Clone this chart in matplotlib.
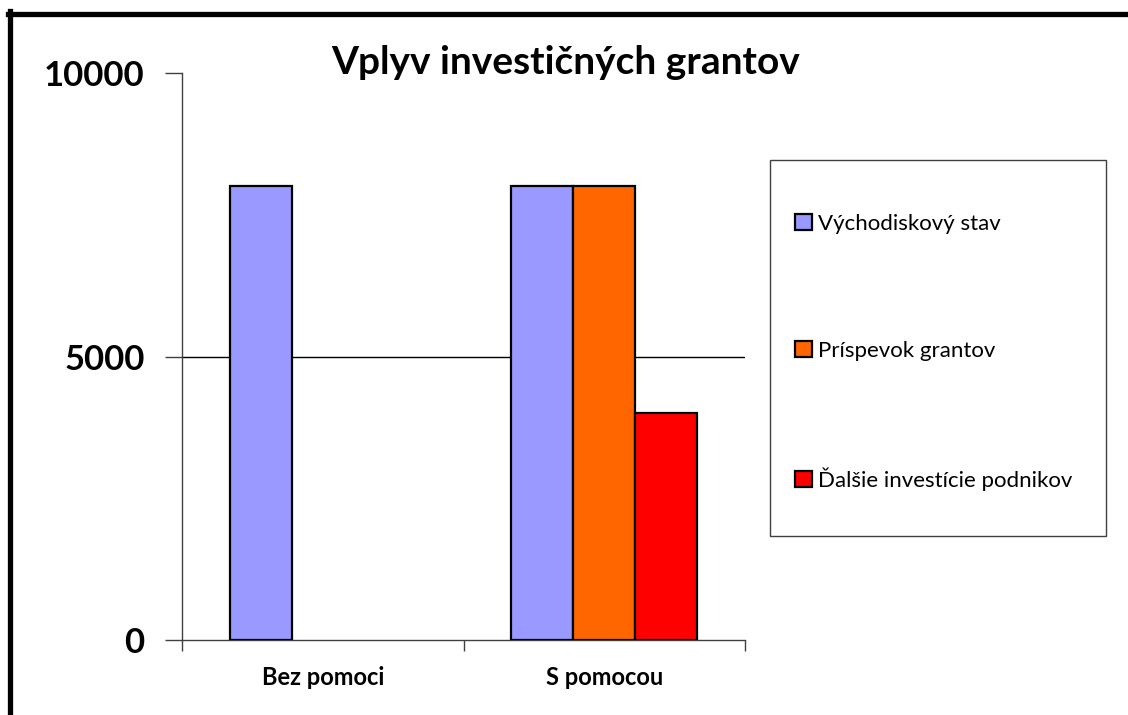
import matplotlib
matplotlib.use("Agg")
import matplotlib.pyplot as plt
from matplotlib.patches import Rectangle, Patch
from matplotlib.lines import Line2D
import numpy as np

plt.rcParams['font.family'] = ['Lato', 'DejaVu Sans']

categories = ["Bez pomoci", "S pomocou"]
series_names = ["Východiskový stav", "Príspevok grantov", "Ďalšie investície podnikov"]
vychodiskovy = [8000, 8000]
prispevok = [0, 8000]
dalsie = [0, 4000]
colors = ["#9999FF", "#FF6600", "#FF0000"]
yticks = [0, 5000, 10000]
title = "Vplyv investičných grantov"

W, H = 1128, 715
fig = plt.figure(figsize=(W / 100, H / 100), dpi=100)

def fx(px):
    return px / W

def fy(py):
    return 1 - py / H

ax = fig.add_axes([fx(182), fy(640), fx(745) - fx(182), fy(73) - fy(640)])

x = np.arange(len(categories))
width = 0.22
for i, (vals, c, name) in enumerate(zip([vychodiskovy, prispevok, dalsie], colors, series_names)):
    v = np.array(vals, dtype=float)
    v[v == 0] = np.nan
    ax.bar(x + (i - 1) * width, v, width, color=c, edgecolor="black", linewidth=1.6,
           label=name, zorder=3)

ax.set_xlim(-0.5, 1.5)
ax.set_ylim(0, 10000)
ax.set_yticks(yticks)
ax.set_yticklabels([str(t) for t in yticks], fontsize=25, fontweight="bold")
ax.tick_params(axis="y", length=12, width=1, color="#404040", pad=15)
ax.set_xticks(x)
ax.set_xticklabels(categories, fontsize=17, fontweight="bold")
ax.tick_params(axis="x", which="major", length=0, pad=19)
ax.set_xticks([-0.5, 0.5, 1.5], minor=True)
ax.tick_params(axis="x", which="minor", length=8, width=1, color="#404040")
for s in ["top", "right"]:
    ax.spines[s].set_visible(False)
for s in ["left", "bottom"]:
    ax.spines[s].set_color("#404040")
    ax.spines[s].set_linewidth(1)
ax.axhline(5000, color="black", linewidth=1, zorder=1)

fig.text(fx(566), fy(63), title, fontsize=28, fontweight="bold", ha="center", va="center")

# legend box
fig.add_artist(Rectangle((fx(770), fy(536)), fx(1106) - fx(770), fy(160) - fy(536),
                         transform=fig.transFigure, facecolor="white",
                         edgecolor="#404040", linewidth=1))
handles = [Patch(facecolor=c, edgecolor="black", linewidth=1.6) for c in colors]
leg = fig.legend(handles, series_names, loc="upper left",
                 bbox_to_anchor=(fx(795), fy(214)), frameon=False,
                 fontsize=16, handlelength=0.75, handleheight=0.75,
                 handletextpad=0.3, labelspacing=4.8, borderpad=0, borderaxespad=0)

# outer frame (partially cropped)
fig.add_artist(Line2D([fx(8), fx(1140)], [fy(13.5), fy(13.5)], transform=fig.transFigure,
                      color="black", linewidth=3.8, solid_capstyle="projecting"))
fig.add_artist(Line2D([fx(10), fx(10)], [fy(11), fy(730)], transform=fig.transFigure,
                      color="black", linewidth=3.8, solid_capstyle="projecting"))

fig.savefig("out.png", dpi=100, facecolor="white")
